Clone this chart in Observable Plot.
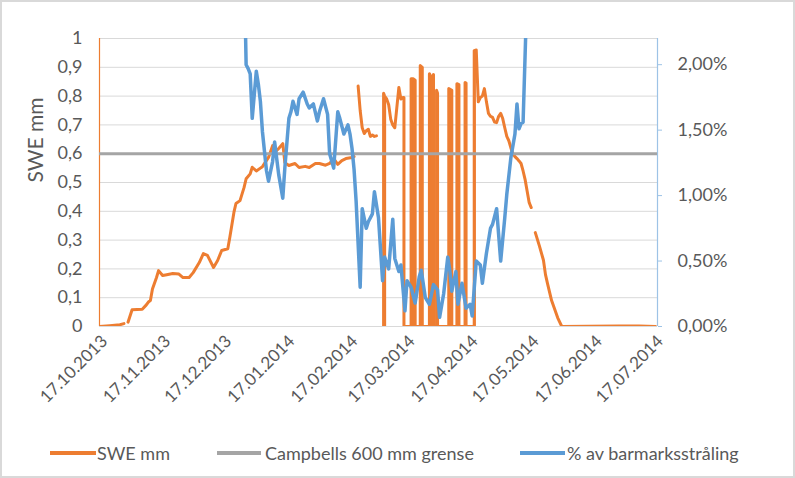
<!DOCTYPE html>
<html><head><meta charset="utf-8">
<script src="https://cdn.jsdelivr.net/npm/d3@7"></script>
<script src="https://cdn.jsdelivr.net/npm/@observablehq/plot@0.6"></script>
<style>
body{margin:0;background:#fff;}
#wrap{position:relative;width:795px;height:478px;overflow:hidden;background:#fff;font-family:Lato,sans-serif;}
#border{position:absolute;left:0;top:0;width:795px;height:478px;box-sizing:border-box;border:2px solid #d9d9d9;pointer-events:none}
#chart{position:absolute;left:0;top:0}
#legend{position:absolute;left:0;top:432px;width:795px;height:46px;}
.sw{position:absolute;height:4px;top:19px}
.lt{position:absolute;top:9px;font-size:18px;color:#595959;line-height:24px;white-space:nowrap}
</style></head>
<body>
<div id="wrap"><div id="chart"></div><div id="legend"></div><div id="border"></div></div>
<script>
// ---- data ----
const xDomain = ["2013-10-17", "2014-07-18"];
const xTicks = ["2013-10-17","2013-11-17","2013-12-17","2014-01-17","2014-02-17","2014-03-17","2014-04-17","2014-05-17","2014-06-17","2014-07-17"];
const sweTicks = [0,0.1,0.2,0.3,0.4,0.5,0.6,0.7,0.8,0.9,1];
const pctTicks = [0,0.5,1,1.5,2];
const pctMax = 2.2;
const campbell = 0.6;
const yLabel = "SWE mm";
const seriesNames = ["SWE mm", "Campbells 600 mm grense", "% av barmarksstråling"];

// SWE (mm) readings; repeated timestamps are instantaneous jumps
const sweDates = ["2013-10-17","2013-10-22","2013-10-27","2013-10-29","2013-10-30","2013-10-31","2013-11-02","2013-11-07","2013-11-09","2013-11-10","2013-11-11","2013-11-12","2013-11-14","2013-11-15","2013-11-17","2013-11-19","2013-11-22","2013-11-25","2013-11-27","2013-11-30",
"2013-12-02","2013-12-05","2013-12-07","2013-12-09","2013-12-12","2013-12-14","2013-12-16","2013-12-19","2013-12-20","2013-12-22","2013-12-23","2013-12-25","2013-12-27","2013-12-28","2013-12-30","2013-12-31",
"2014-01-02","2014-01-04","2014-01-05","2014-01-08","2014-01-10","2014-01-11","2014-01-13","2014-01-15","2014-01-16","2014-01-18","2014-01-21","2014-01-23","2014-01-26","2014-01-28","2014-01-31",
"2014-02-02","2014-02-05","2014-02-07","2014-02-09","2014-02-11","2014-02-13","2014-02-15","2014-02-18","2014-02-19","2014-02-20","2014-02-21","2014-02-22","2014-02-23","2014-02-24","2014-02-25","2014-02-26","2014-02-27","2014-02-28",
"2014-03-01","2014-03-02","2014-03-03",
"2014-03-05T12:00Z","2014-03-05T12:00Z","2014-03-06","2014-03-07","2014-03-08","2014-03-09","2014-03-10","2014-03-11","2014-03-12","2014-03-13","2014-03-14","2014-03-15",
"2014-03-15T12:00Z","2014-03-15T12:00Z",
"2014-03-19","2014-03-19","2014-03-20","2014-03-21","2014-03-21",
"2014-03-23T12:00Z","2014-03-23T12:00Z","2014-03-24T12:00Z","2014-03-24T12:00Z",
"2014-03-28","2014-03-28","2014-03-29","2014-03-30","2014-03-30",
"2014-03-31T12:00Z","2014-03-31T12:00Z","2014-04-01","2014-04-01",
"2014-04-06T12:00Z","2014-04-06T12:00Z","2014-04-08","2014-04-08",
"2014-04-10T12:00Z","2014-04-10T12:00Z","2014-04-11T12:00Z","2014-04-11T12:00Z",
"2014-04-14T12:00Z","2014-04-14T12:00Z","2014-04-15","2014-04-15",
"2014-04-19","2014-04-19","2014-04-20","2014-04-21","2014-04-22","2014-04-23","2014-04-24","2014-04-25","2014-04-26","2014-04-27","2014-04-28","2014-04-29","2014-04-30",
"2014-05-01","2014-05-02","2014-05-03","2014-05-04","2014-05-05","2014-05-06","2014-05-07","2014-05-08","2014-05-09","2014-05-10","2014-05-11","2014-05-12","2014-05-13","2014-05-14","2014-05-15","2014-05-16","2014-05-17","2014-05-18","2014-05-19","2014-05-21","2014-05-23","2014-05-24","2014-05-25","2014-05-27","2014-05-28","2014-05-30",
"2014-06-01","2014-06-14","2014-06-29","2014-07-09","2014-07-17"];
const sweValues = [0,0.003,0.006,0.01,null,0.015,0.058,0.06,0.075,0.085,0.09,0.13,0.17,0.194,0.177,0.18,0.184,0.182,0.17,0.17,
0.187,0.222,0.253,0.247,0.205,0.229,0.264,0.27,0.31,0.396,0.427,0.437,0.483,0.513,0.53,0.553,
0.54,0.55,0.555,0.587,0.628,0.604,0.618,0.635,0.569,0.559,0.566,0.552,0.556,0.552,0.566,
0.566,0.56,0.566,0.583,0.563,0.576,0.583,0.587,0.59,null,0.835,0.75,0.69,0.67,0.68,0.685,0.66,0.665,
0.66,0.662,null,
0,0.81,0.80,0.79,0.77,0.72,0.70,0.69,0.76,0.83,0.79,0.795,
0.795,0,
0,0.86,0.86,0.855,0,
0,0.906,0.90,0,
0,0.878,0.86,0.875,0,
0,0.82,0.81,0,
0,0.826,0.82,0,
0,0.843,0.84,0,
0,0.847,0.845,0,
0,0.958,0.96,0.78,0.795,0.80,0.826,0.78,0.74,0.73,0.726,0.71,0.708,
0.73,0.74,0.722,0.69,0.66,0.645,0.62,0.60,0.59,0.583,0.575,0.566,0.54,0.51,0.47,0.43,0.413,null,0.326,0.28,0.23,0.18,0.149,0.09,0.07,0.03,
0,0.001,0.002,0.002,0];

// spells where the SWE reading flickers between 0 and the top value (drawn solid)
const sweFlickerStart = ["2014-03-05T12:00Z","2014-03-19","2014-03-23T12:00Z","2014-03-28","2014-03-31T12:00Z","2014-04-06T12:00Z","2014-04-10T12:00Z","2014-04-14T12:00Z","2014-04-19"];
const sweFlickerEnd   = ["2014-03-07","2014-03-21","2014-03-24T12:00Z","2014-03-30","2014-04-01","2014-04-08","2014-04-11T12:00Z","2014-04-15","2014-04-20"];
const sweFlickerTop   = [0.79,0.855,0.90,0.86,0.81,0.82,0.84,0.845,0.958];

// % av barmarksstråling
const barDates = ["2013-12-27","2013-12-28","2013-12-29","2013-12-30","2013-12-31",
"2014-01-02","2014-01-03","2014-01-04","2014-01-05","2014-01-07","2014-01-08","2014-01-10","2014-01-11","2014-01-13","2014-01-15","2014-01-16","2014-01-18","2014-01-19","2014-01-20","2014-01-22","2014-01-23","2014-01-25","2014-01-27","2014-01-28","2014-01-30",
"2014-02-01","2014-02-02","2014-02-04","2014-02-06","2014-02-07","2014-02-09","2014-02-11","2014-02-12","2014-02-14","2014-02-16","2014-02-17","2014-02-18","2014-02-19","2014-02-20","2014-02-22","2014-02-23","2014-02-25","2014-02-26","2014-02-28",
"2014-03-01","2014-03-03","2014-03-05","2014-03-06","2014-03-08","2014-03-10","2014-03-11","2014-03-13","2014-03-14","2014-03-16","2014-03-17","2014-03-19","2014-03-21","2014-03-23","2014-03-24","2014-03-26","2014-03-28","2014-03-30",
"2014-04-01","2014-04-02","2014-04-04","2014-04-06","2014-04-07","2014-04-08","2014-04-10","2014-04-11","2014-04-13","2014-04-15","2014-04-17","2014-04-18","2014-04-20","2014-04-22","2014-04-23","2014-04-25","2014-04-27","2014-04-28","2014-04-30",
"2014-05-02","2014-05-04","2014-05-05","2014-05-07","2014-05-09","2014-05-10","2014-05-11","2014-05-12","2014-05-13","2014-05-15"];
const barValues = [2.8,2.0,1.97,1.93,1.59,
1.95,1.85,1.72,1.49,1.19,1.11,1.26,1.41,1.16,0.98,1.21,1.59,1.64,1.72,1.62,1.74,1.79,1.70,1.67,1.70,
1.57,1.64,1.74,1.62,1.32,1.21,1.64,1.59,1.47,1.54,1.47,1.36,1.20,0.96,0.30,0.90,0.75,0.80,0.86,
1.03,0.83,0.35,0.53,0.44,0.82,0.52,0.42,0.47,0.12,0.35,0.30,0.18,0.38,0.43,0.22,0.17,0.32,
0.28,0.07,0.25,0.53,0.43,0.27,0.42,0.17,0.33,0.14,0.17,0.08,0.50,0.47,0.33,0.56,0.75,0.78,0.90,
0.50,0.83,1.01,1.29,1.47,1.70,1.51,1.55,1.56,2.6];

// ---- build ----
const ORANGE = "#ED7D31", GRAY = "#A5A5A5", BLUE = "#5B9BD5", TEXT = "#595959";
const parse = d3.isoParse;
const swe = sweDates.map((d, i) => ({date: parse(d), value: sweValues[i]}));
const flicker = sweFlickerStart.map((d, i) => ({x1: parse(d), x2: parse(sweFlickerEnd[i]), top: sweFlickerTop[i]}));
const bar = barDates.map((d, i) => ({date: parse(d), pct: barValues[i]}));

const chart = Plot.plot({
  width: 795, height: 432,
  marginLeft: 99, marginRight: 138, marginTop: 38, marginBottom: 106,
  style: {fontFamily: "Lato, sans-serif", fontSize: "18px", color: TEXT, background: "transparent", overflow: "visible"},
  x: {type: "utc", domain: xDomain.map(parse)},
  y: {domain: [0, 1]},
  marks: [
    Plot.gridY(sweTicks, {stroke: "#d9d9d9", strokeOpacity: 1, strokeWidth: 1}),
    Plot.ruleX([parse(xDomain[0])], {stroke: ORANGE, strokeWidth: 1.2}),
    Plot.ruleX([parse(xDomain[1])], {stroke: "#9DC3E6", strokeWidth: 1.2}),
    Plot.axisY(sweTicks, {anchor: "left", tickSize: 0, tickPadding: 17, fill: TEXT,
      tickFormat: d => String(d).replace(".", ","), label: null}),
    Plot.text([yLabel], {frameAnchor: "left", rotate: -90, dx: -63, fontSize: 21, fill: TEXT}),
    Plot.axisY(pctTicks.map(v => v / pctMax), {anchor: "right", tickSize: 4, stroke: "#9DC3E6", tickPadding: 16, fill: TEXT,
      tickFormat: d => (d * pctMax).toFixed(2).replace(".", ",") + "%", label: null}),
    Plot.axisX(xTicks.map(parse), {tickFormat: d3.utcFormat("%d.%m.%Y"), tickRotate: -45, tickSize: 0, tickPadding: 12,
      dx: 5, label: null, fontSize: 17, fill: TEXT}),
    Plot.rectY(flicker, {x1: "x1", x2: "x2", y1: 0, y2: "top", fill: ORANGE}),
    Plot.lineY(swe, {x: "date", y: "value", stroke: ORANGE, strokeWidth: 3, strokeLinejoin: "round", clip: true}),
    Plot.ruleY([campbell], {stroke: GRAY, strokeWidth: 3}),
    Plot.lineY(bar, {x: "date", y: d => d.pct / pctMax, stroke: BLUE, strokeWidth: 3.5, strokeLinejoin: "round", clip: true})
  ]
});
document.getElementById("chart").append(chart);

// ---- legend (HTML, below the svg) ----
const legendItems = [
  {name: seriesNames[0], color: ORANGE, sw: [50, 46], tx: 97},
  {name: seriesNames[1], color: GRAY, sw: [217, 44], tx: 265},
  {name: seriesNames[2], color: BLUE, sw: [520, 45], tx: 567}
];
const lg = document.getElementById("legend");
for (const it of legendItems) {
  const s = document.createElement("div");
  s.className = "sw"; s.style.left = it.sw[0] + "px"; s.style.width = it.sw[1] + "px"; s.style.background = it.color;
  const t = document.createElement("div");
  t.className = "lt"; t.style.left = it.tx + "px"; t.textContent = it.name;
  lg.append(s, t);
}
</script>
</body></html>
